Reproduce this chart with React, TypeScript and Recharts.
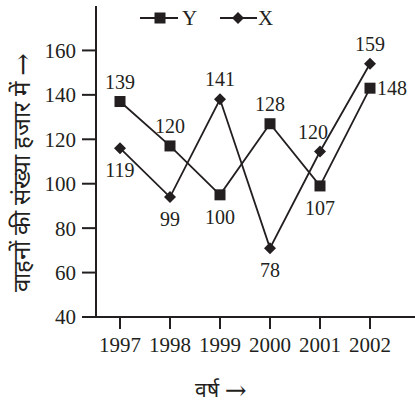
import React from 'react';
import { LineChart, Line, XAxis, YAxis, LabelList, Legend } from 'recharts';

const years = ['1997', '1998', '1999', '2000', '2001', '2002'];
const seriesY = [137, 117, 95, 127, 99, 143];
const seriesX = [116, 94, 138, 71, 114.5, 154];
const labelsY = ['139', '120', '100', '128', '107', '148'];
const labelsX = ['119', '99', '141', '78', '120', '159'];
const yTicks = [40, 60, 80, 100, 120, 140, 160];

const data = years.map((year, i) => ({
  year,
  Y: seriesY[i],
  X: seriesX[i],
  labY: labelsY[i],
  labX: labelsX[i],
}));

const INK = '#231f20';
const SERIF = '"Liberation Serif", "Times New Roman", serif';
const ARROWFONT = '"DejaVu Serif", "DejaVu Sans", serif';

const placeY = ['top', 'top', 'bottom', 'top', 'bottom', 'right'];
const placeX = ['bottom', 'bottom', 'top', 'bottom', 'topleft', 'top'];

const offsetFor = (p: string): [number, number] => {
  switch (p) {
    case 'top': return [0, -20];
    case 'bottom': return [0, 22];
    case 'right': return [22, 0];
    case 'topleft': return [-7, -20];
    default: return [0, 0];
  }
};

const makeLabel = (places: string[]) => (props: any) => {
  const { x, y, index, value } = props;
  const [dx, dy] = offsetFor(places[index]);
  return (
    <text x={x + dx} y={y + dy} textAnchor="middle" dominantBaseline="central"
      fontSize={20} fontFamily={SERIF} fill={INK}>{value}</text>
  );
};

const SquareDot = (props: any) => {
  const { cx, cy } = props;
  if (cx == null || cy == null) return null;
  return <rect x={cx - 5.5} y={cy - 5.5} width={11} height={11} fill={INK} />;
};

const DiamondDot = (props: any) => {
  const { cx, cy } = props;
  if (cx == null || cy == null) return null;
  const r = 6;
  return <polygon points={`${cx},${cy - r} ${cx + r},${cy} ${cx},${cy + r} ${cx - r},${cy}`} fill={INK} />;
};

const LegendContent = () => (
  <svg width={160} height={24} style={{ display: 'block' }}>
    <line x1={0} y1={12} x2={38} y2={12} stroke={INK} strokeWidth={2} />
    <rect x={14.5} y={6.5} width={11} height={11} fill={INK} />
    <text x={42} y={12} dominantBaseline="central" fontSize={21} fontFamily={SERIF} fill={INK}>Y</text>
    <line x1={80} y1={12} x2={117} y2={12} stroke={INK} strokeWidth={2} />
    <polygon points="98,6 104,12 98,18 92,12" fill={INK} />
    <text x={118} y={12} dominantBaseline="central" fontSize={21} fontFamily={SERIF} fill={INK}>X</text>
  </svg>
);

const YLabel = (props: any) => {
  const { viewBox } = props;
  const cx = 22;
  const cy = viewBox.y + viewBox.height / 2 + 11;
  return (
    <text x={cx} y={cy} transform={`rotate(-90, ${cx}, ${cy})`} textAnchor="middle"
      dominantBaseline="central" fontSize={24} fontFamily={SERIF} fill={INK}>
      वाहनों की संख्या हजार में <tspan fontFamily={ARROWFONT} fontSize={27}>→</tspan>
    </text>
  );
};

const XLabel = (props: any) => {
  const { viewBox } = props;
  const cx = 221;
  const cy = viewBox.y + 73;
  return (
    <text x={cx} y={cy} textAnchor="middle" dominantBaseline="central"
      fontSize={21} fontFamily={SERIF} fill={INK}>
      वर्ष <tspan fontFamily={ARROWFONT} fontSize={26}>→</tspan>
    </text>
  );
};

export default function App() {
  return (
    <div style={{ position: 'absolute', left: 0, top: 0, width: 415, height: 404, background: '#fff' }}>
      <LineChart width={415} height={404} data={data}
        margin={{ top: 6, right: 0, bottom: 37, left: 0 }}>
        <XAxis dataKey="year" type="category" padding={{ left: 24, right: 45 }}
          axisLine={{ stroke: INK, strokeWidth: 2 }} tickLine={{ stroke: INK, strokeWidth: 2 }}
          tickSize={12} tickMargin={8} height={50}
          tick={{ fontSize: 21, fontFamily: SERIF, fill: INK }}
          label={<XLabel />} />
        <YAxis type="number" domain={[40, 180]} ticks={yTicks} width={96}
          axisLine={{ stroke: INK, strokeWidth: 2 }} tickLine={{ stroke: INK, strokeWidth: 2 }}
          tickSize={14} tickMargin={6}
          tick={{ fontSize: 21, fontFamily: SERIF, fill: INK }}
          label={<YLabel />} />
        <Legend layout="horizontal" verticalAlign="middle" align="center"
          wrapperStyle={{ top: 6, left: 140, width: 160 }} content={<LegendContent />} />
        <Line dataKey="Y" stroke={INK} strokeWidth={1.8} isAnimationActive={false}
          dot={<SquareDot />} activeDot={false}>
          <LabelList dataKey="labY" content={makeLabel(placeY)} />
        </Line>
        <Line dataKey="X" stroke={INK} strokeWidth={1.8} isAnimationActive={false}
          dot={<DiamondDot />} activeDot={false}>
          <LabelList dataKey="labX" content={makeLabel(placeX)} />
        </Line>
      </LineChart>
    </div>
  );
}
